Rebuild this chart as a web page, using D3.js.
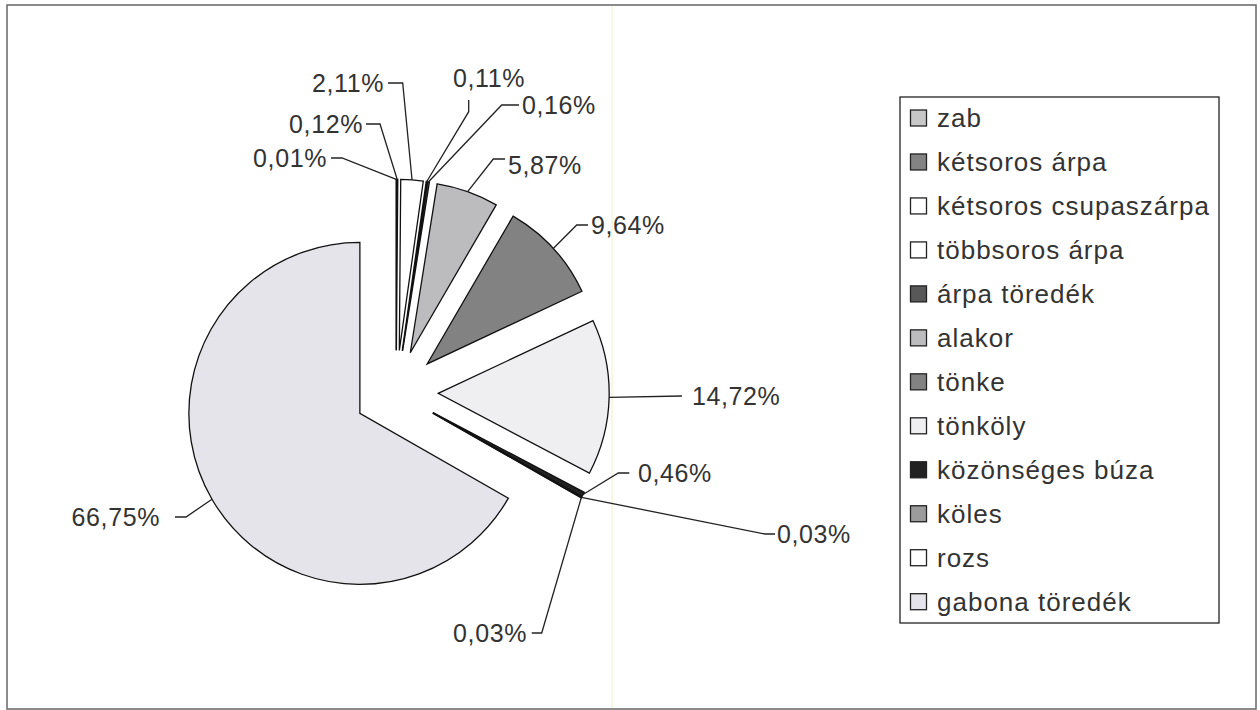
<!DOCTYPE html>
<html>
<head>
<meta charset="utf-8">
<script src="https://cdn.jsdelivr.net/npm/d3@7"></script>
<style>
  html, body { margin: 0; padding: 0; background: #fff; }
  svg { display: block; }
  text { font-family: "Liberation Sans", Arial, sans-serif; fill: #333; }
</style>
</head>
<body>
<svg id="chart" width="1260" height="710"></svg>
<script>
// ---- data ----
const categories = ["zab", "kétsoros árpa", "kétsoros csupaszárpa", "többsoros árpa",
  "árpa töredék", "alakor", "tönke", "tönköly", "közönséges búza", "köles", "rozs", "gabona töredék"];
const values = [0.01, 0.12, 2.11, 0.11, 0.16, 5.87, 9.64, 14.72, 0.46, 0.03, 0.03, 66.75];
const valueLabels = ["0,01%", "0,12%", "2,11%", "0,11%", "0,16%", "5,87%", "9,64%", "14,72%",
  "0,46%", "0,03%", "0,03%", "66,75%"];
const fills = ["#c8c8c8", "#838383", "#ffffff", "#ffffff", "#585858", "#bcbcbe", "#828282",
  "#efeff2", "#222222", "#9c9c9c", "#ffffff", "#e4e4ea"];

// ---- layout (label placement, pixels) ----
// [textX, textY, anchor, leaderStartX, leaderStartY, kneeX, kneeY]
const labelLayout = [
  [327, 158, "end", 331, 158, 342, 158],
  [363, 124, "end", 366, 124, 380, 124],
  [384, 83, "end", 388, 83, 402.7, 83],
  [453, 78, "start", 468.7, 100, 468.7, 111.7],
  [522, 105, "start", 519, 105, 501.7, 105],
  [508, 165, "start", 505, 159, 493.3, 159],
  [591, 225, "start", 588, 225, 576.7, 225],
  [692, 396, "start", 682, 396, 682, 396],
  [638, 473, "start", 629.3, 473, 618.3, 473],
  [777, 534, "start", 775, 534, 765, 534],
  [527, 633, "end", 531.7, 633, 541.7, 633],
  [160, 517, "end", 175, 517, 186, 517]
];

const svg = d3.select("#chart");

// outer frame
svg.append("rect").attr("x", 7).attr("y", 5).attr("width", 1249).attr("height", 704)
  .attr("fill", "#fff").attr("stroke", "#666").attr("stroke-width", 1.5);
// faint scan line
svg.append("line").attr("x1", 612).attr("x2", 612).attr("y1", 6).attr("y2", 708)
  .attr("stroke", "#f6f4d8").attr("stroke-width", 1.5);

const cx = 396.2, cy = 392.3, R = 171, explode = 42;

const pie = d3.pie().sort(null).value(d => d)(values);
const arc = d3.arc().innerRadius(0).outerRadius(R);

const g = svg.append("g").attr("transform", `translate(${cx},${cy})`);

pie.forEach((p, i) => {
  const mid = (p.startAngle + p.endAngle) / 2;
  const dx = Math.sin(mid) * explode, dy = -Math.cos(mid) * explode;
  g.append("path")
    .attr("d", arc(p))
    .attr("transform", `translate(${dx},${dy})`)
    .attr("fill", fills[i])
    .attr("stroke", "#111")
    .attr("stroke-width", 1.3)
    .attr("stroke-linejoin", "miter");
});

// leader lines and labels
pie.forEach((p, i) => {
  const mid = (p.startAngle + p.endAngle) / 2;
  const ex = cx + Math.sin(mid) * (explode + R);
  const ey = cy - Math.cos(mid) * (explode + R);
  const L = labelLayout[i];
  svg.append("polyline")
    .attr("points", `${L[3]},${L[4]} ${L[5]},${L[6]} ${ex},${ey}`)
    .attr("fill", "none").attr("stroke", "#222").attr("stroke-width", 1.3);
  svg.append("text")
    .attr("x", L[0]).attr("y", L[1])
    .attr("text-anchor", L[2])
    .attr("dominant-baseline", "central")
    .attr("font-size", 25)
    .attr("letter-spacing", 0.6)
    .text(valueLabels[i]);
});

// legend
const legX = 900, legTop = 97, legW = 319, legH = 526;
svg.append("rect").attr("x", legX).attr("y", legTop).attr("width", legW).attr("height", legH)
  .attr("fill", "#fff").attr("stroke", "#222").attr("stroke-width", 1.3);

const rowY = d3.scalePoint().domain(categories).range([118, 601.7]);

const leg = svg.append("g");
categories.forEach((c, i) => {
  const y = rowY(c);
  leg.append("rect").attr("x", 910.5).attr("y", y - 8).attr("width", 16).attr("height", 16)
    .attr("fill", fills[i]).attr("stroke", "#222").attr("stroke-width", 1.3);
  leg.append("text").attr("x", 937).attr("y", y)
    .attr("dominant-baseline", "central")
    .attr("font-size", 26)
    .attr("letter-spacing", 1)
    .text(c);
});
</script>
</body>
</html>
